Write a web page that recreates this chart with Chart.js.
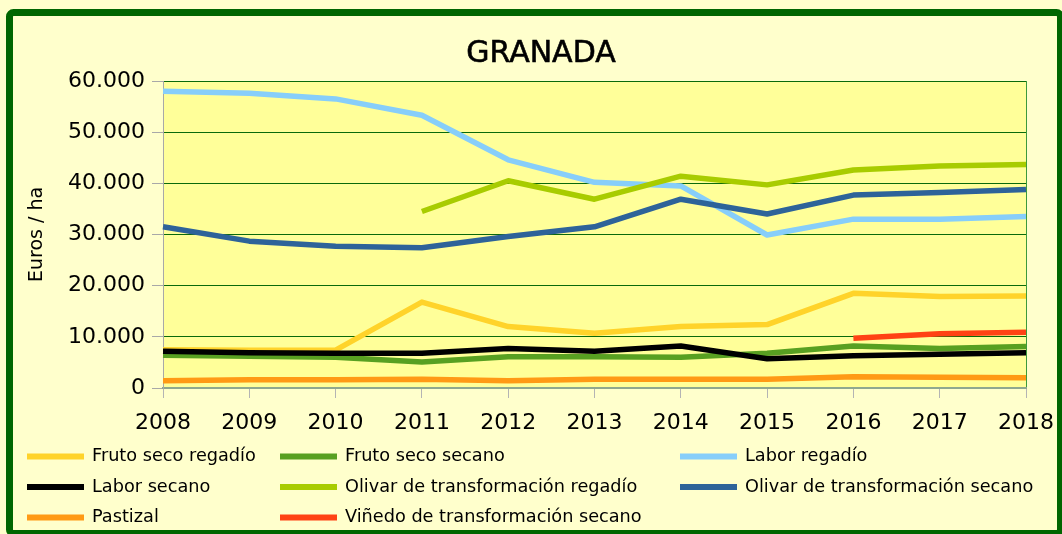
<!DOCTYPE html>
<html>
<head>
<meta charset="utf-8">
<script src="https://cdn.jsdelivr.net/npm/chart.js@4.4.1/dist/chart.umd.min.js"></script>
<style>
html,body{margin:0;padding:0;background:#FFFFCC;overflow:hidden;}
canvas{display:block;}
</style>
</head>
<body>
<canvas id="c" width="1062" height="534"></canvas>
<script>
const years = ['2008','2009','2010','2011','2012','2013','2014','2015','2016','2017','2018'];
const seriesLabels = ['Fruto seco regadío','Fruto seco secano','Labor regadío','Labor secano','Olivar de transformación regadío','Olivar de transformación secano','Pastizal','Viñedo de transformación secano'];
const frutoSecoRegadio = [7500,7400,7400,16800,12000,10700,12000,12400,18500,17900,18000];
const frutoSecoSecano = [6400,6200,6000,5100,6100,6100,6000,6800,8200,7700,8100];
const laborRegadio = [58000,57600,56500,53300,44600,40200,39500,29900,33000,33000,33500];
const laborSecano = [7200,6900,6800,6800,7700,7200,8200,5700,6300,6600,6900];
const olivarRegadio = [null,null,null,34500,40500,36900,41400,39700,42600,43400,43700];
const olivarSecano = [31500,28700,27700,27400,29600,31500,36900,34000,37700,38200,38800];
const pastizal = [1400,1600,1600,1700,1400,1700,1700,1700,2200,2100,2000];
const vinedoSecano = [null,null,null,null,null,null,null,null,9700,10600,10900];
const yTicks = [0,10000,20000,30000,40000,50000,60000];
const chartTitle = 'GRANADA';

const seriesData = [frutoSecoRegadio,frutoSecoSecano,laborRegadio,laborSecano,olivarRegadio,olivarSecano,pastizal,vinedoSecano];
const colors = ['#FFD32A','#58A021','#87CEFA','#000000','#A8CC00','#2E6399','#FF9A15','#FF4214'];

const FONT = "'DejaVu Sans', Verdana, sans-serif";

function fmt(v){ return String(v).replace(/\B(?=(\d{3})+(?!\d))/g,'.'); }

const bgPlugin = {
  id:'bg',
  beforeDraw(chart){
    const ctx = chart.ctx, a = chart.chartArea;
    ctx.save();
    ctx.fillStyle = '#FFFFCC';
    ctx.fillRect(0,0,chart.width,chart.height);
    ctx.fillStyle = '#FFFF99';
    ctx.fillRect(a.left,a.top,a.right-a.left,a.bottom-a.top);
    ctx.strokeStyle = '#006600';
    ctx.lineWidth = 7;
    ctx.beginPath();
    if (ctx.roundRect) ctx.roundRect(9.5,12.5,1051,521,4); else ctx.rect(9.5,12.5,1051,521);
    ctx.stroke();
    // title
    ctx.fillStyle = '#000';
    ctx.font = "30px 'DejaVu Sans', sans-serif";
    ctx.textAlign = 'center';
    ctx.textBaseline = 'alphabetic';
    ctx.fillText(chartTitle, 541, 62);
    ctx.lineWidth = 0.6;
    ctx.strokeStyle = '#000';
    ctx.strokeText(chartTitle, 541, 62);
    ctx.restore();
  },
  afterDraw(chart){
    const ctx = chart.ctx;
    const colX = [27,280,680];
    const rowY = [456.5,487,517.5];
    ctx.save();
    ctx.font = '17.7px ' + FONT;
    ctx.textBaseline = 'middle';
    ctx.textAlign = 'left';
    chart.data.datasets.forEach((ds,i)=>{
      const x = colX[i%3], y = rowY[Math.floor(i/3)];
      ctx.strokeStyle = ds.borderColor;
      ctx.lineWidth = 6;
      ctx.lineCap = 'butt';
      ctx.beginPath();
      ctx.moveTo(x,y); ctx.lineTo(x+57,y);
      ctx.stroke();
      ctx.fillStyle = '#000';
      ctx.fillText(ds.label, x+65, y);
    });
    ctx.restore();
  }
};

new Chart(document.getElementById('c'), {
  type:'line',
  data:{
    labels: years,
    datasets: seriesData.map((d,i)=>({
      label: seriesLabels[i],
      data: d,
      borderColor: colors[i],
      backgroundColor: colors[i],
      borderWidth: 5.5,
      pointRadius: 0,
      pointHoverRadius: 0,
      tension: 0,
      spanGaps: false,
      borderJoinStyle: 'round',
      borderCapStyle: 'butt',
      order: -i
    }))
  },
  options:{
    responsive:false,
    animation:false,
    devicePixelRatio:1,
    layout:{padding:{left:0,right:36,top:81,bottom:96}},
    plugins:{
      legend:{display:false},
      tooltip:{enabled:false},
      title:{display:false}
    },
    scales:{
      x:{
        type:'category',
        offset:false,
        grid:{
          display:true,
          drawOnChartArea:true,
          color:(c)=> c.index===years.length-1 ? '#3C9A3C' : 'rgba(0,0,0,0)',
          tickColor:'#B4B4B4',
          tickLength:10,
          lineWidth:1
        },
        border:{display:true,color:'#8FA88F',width:2},
        ticks:{
          color:'#000',
          font:{family:FONT,size:22},
          padding:12,
          maxRotation:0,
          autoSkip:false
        },
        afterFit(s){ s.height = 50; s.paddingRight = 0; s.paddingLeft = 0; }
      },
      y:{
        min:0,max:60000,
        afterBuildTicks(s){ s.ticks = yTicks.map(v=>({value:v})); },
        grid:{
          color:'#0A6A0A',
          tickColor:'#A8A8A8',
          tickLength:11,
          lineWidth:1
        },
        border:{display:true,color:'#A8A8A8',width:1},
        ticks:{
          color:'#000',
          font:{family:FONT,size:22},
          padding:7,
          callback:(v)=>fmt(v)
        },
        title:{
          display:true,
          text:'Euros / ha',
          color:'#000',
          font:{family:FONT,size:19},
          padding:{top:26,bottom:0}
        },
        afterFit(s){ s.width = 163; }
      }
    }
  },
  plugins:[bgPlugin]
});
</script>
</body>
</html>
